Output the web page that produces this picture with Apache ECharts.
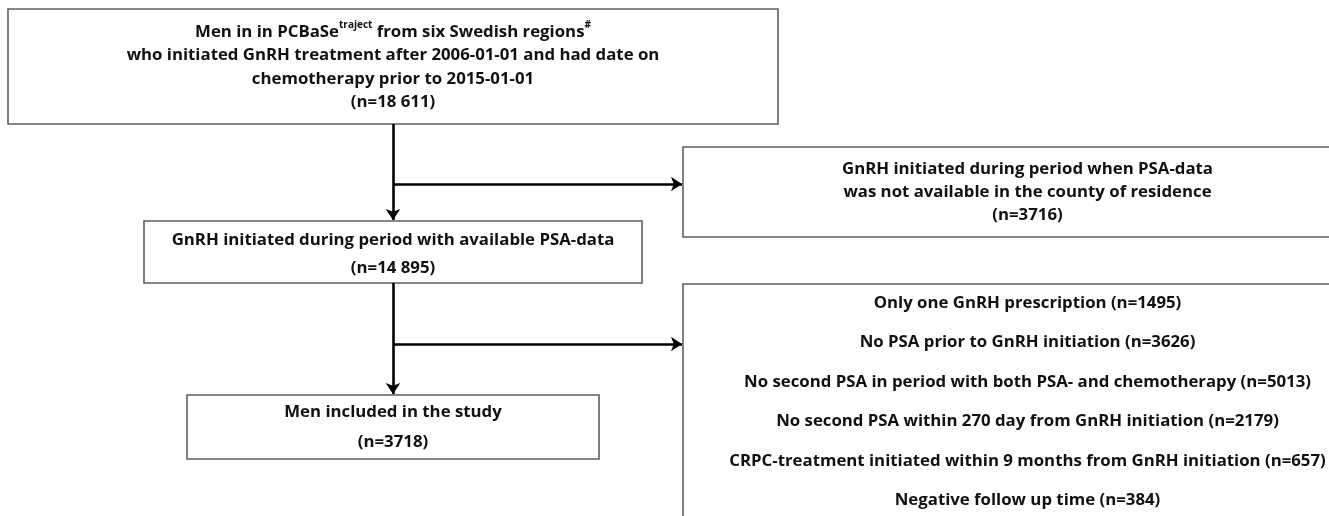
<!DOCTYPE html>
<html>
<head>
<meta charset="utf-8">
<script src="https://cdn.jsdelivr.net/npm/echarts@6/dist/echarts.min.js"></script>
<style>
  html, body { margin: 0; padding: 0; background: #fff; }
  #chart { width: 1329px; height: 516px; }
</style>
</head>
<body>
<div id="chart"></div>
<script>
// flow chart texts and counts
const boxTitles = [
  ['{b|Men in in PCBaSe}{sup|traject}{b| from six Swedish regions}{sup|#}',
   'who initiated GnRH treatment after 2006-01-01 and had date on',
   'chemotherapy prior to 2015-01-01'],
  ['GnRH initiated during period when PSA-data',
   'was not available in the county of residence'],
  ['GnRH initiated during period with available PSA-data'],
  ['Men included in the study']
];
const boxCounts = ['18 611', '3716', '14 895', '3718'];

const exclusionReasons = [
  'Only one GnRH prescription',
  'No PSA prior to GnRH initiation',
  'No second PSA in period with both PSA- and chemotherapy',
  'No second PSA within 270 day from GnRH initiation',
  'CRPC-treatment initiated within 9 months from GnRH initiation',
  'Negative follow up time'
];
const exclusionCounts = [1495, 3626, 5013, 2179, 657, 384];

// layout (pixel space of the hidden axes)
const boxRects = [
  [8, 9, 778, 124],
  [683, 147, 1372, 237],
  [144, 221, 642, 283],
  [187, 395, 599, 459],
  [683, 284, 1372, 540]
];
const boxLineHeight = [23.5, 23, 28, 30, 39.5];
const textCenterY = [67, 192, 254, 427, 401.5];
const arrows = [
  [[393, 124], [393, 220]],
  [[393, 184], [682, 184]],
  [[393, 283], [393, 394]],
  [[393, 344], [682, 344]]
];

const FONT = '"Open Sans", "Noto Sans", sans-serif';

function wrapLine(s) {
  return s.indexOf('{') === 0 ? s : '{b|' + s + '}';
}

const boxTexts = boxTitles.map((lines, i) =>
  lines.map(wrapLine).concat(['{b|(n=' + boxCounts[i] + ')}']).join('\n'));
boxTexts.push(exclusionReasons.map((r, i) => '{b|' + r + ' (n=' + exclusionCounts[i] + ')}').join('\n'));

const boxData = boxRects.map((r, i) => ({ value: r, text: boxTexts[i], idx: i }));

const chart = echarts.init(document.getElementById('chart'));
chart.setOption({
  backgroundColor: '#fff',
  animation: false,
  grid: { left: 0, right: 0, top: 0, bottom: 0 },
  xAxis: { type: 'value', min: 0, max: 1329, show: false },
  yAxis: { type: 'value', min: 0, max: 516, inverse: true, show: false },
  series: [
    {
      type: 'custom',
      coordinateSystem: 'cartesian2d',
      data: boxData,
      clip: false,
      renderItem: function (params, api) {
        const i = params.dataIndex;
        const p0 = api.coord([api.value(0), api.value(1)]);
        const p1 = api.coord([api.value(2), api.value(3)]);
        const cx = (p0[0] + p1[0]) / 2;
        const lh = boxLineHeight[i];
        const cy = api.coord([0, textCenterY[i]])[1];
        return {
          type: 'group',
          children: [
            {
              type: 'rect',
              shape: { x: p0[0], y: p0[1], width: p1[0] - p0[0], height: p1[1] - p0[1] },
              style: { fill: '#fff', stroke: '#5f5f5f', lineWidth: 1.6 }
            },
            {
              type: 'text',
              x: cx,
              y: cy,
              style: {
                text: boxData[i].text,
                align: 'center',
                verticalAlign: 'middle',
                rich: {
                  b: { fontFamily: FONT, fontWeight: 'bold', fontSize: 16.8, lineHeight: lh, fill: '#111' },
                  sup: { fontFamily: FONT, fontWeight: 'bold', fontSize: 10, lineHeight: 14, verticalAlign: 'top', fill: '#111' }
                }
              }
            }
          ]
        };
      }
    },
    {
      type: 'lines',
      coordinateSystem: 'cartesian2d',
      symbol: ['none', 'arrow'],
      symbolSize: [10, 11],
      lineStyle: { color: '#000', width: 2.6, opacity: 1 },
      data: arrows.map(a => ({ coords: a })),
      z: 5
    }
  ]
});
</script>
</body>
</html>
